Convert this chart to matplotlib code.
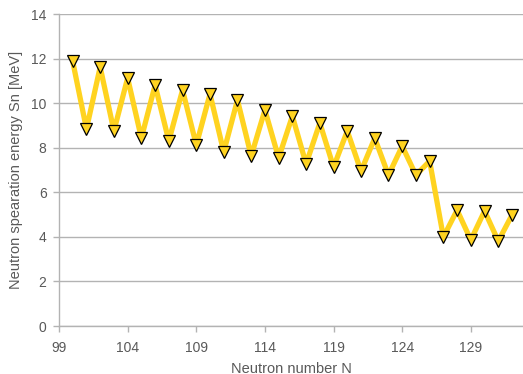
import matplotlib
matplotlib.use("Agg")
import matplotlib.pyplot as plt

# datos
n_neutrones = list(range(100, 133))
sn_mev = [11.87, 8.84, 11.62, 8.75, 11.13, 8.43, 10.81, 8.30, 10.59, 8.12,
          10.41, 7.81, 10.14, 7.63, 9.69, 7.54, 9.42, 7.27, 9.11, 7.13,
          8.75, 6.95, 8.43, 6.77, 8.07, 6.77, 7.40, 3.99, 5.20, 3.86,
          5.16, 3.81, 4.98]
x_ticks = [99, 104, 109, 114, 119, 124, 129]
y_ticks = [0, 2, 4, 6, 8, 10, 12, 14]

plt.rcParams["font.family"] = ["Liberation Sans", "DejaVu Sans"]
gris = "#b3b3b3"
texto = "#595959"

fig = plt.figure(figsize=(5.23, 3.74), dpi=100)
ax = fig.add_axes([59 / 523, 1 - 326 / 374, 1 - 59 / 523, (326 - 14) / 374])

ax.plot(n_neutrones, sn_mev, "-", color="#ffd320", lw=3.8, zorder=3)
ax.plot(n_neutrones, sn_mev, "v", ms=9, mfc="#ffd320", mec="black", mew=0.9,
        ls="none", zorder=4)

ax.set_xlim(99, 132.8)
ax.set_ylim(0, 14)
ax.set_xticks(x_ticks)
ax.set_yticks(y_ticks)
ax.grid(True, axis="y", color=gris, lw=1)
ax.set_axisbelow(True)
for lado in ("top", "right"):
    ax.spines[lado].set_visible(False)
for lado in ("left", "bottom"):
    ax.spines[lado].set_color(gris)
    ax.spines[lado].set_linewidth(1)
ax.tick_params(colors=gris, labelcolor=texto, labelsize=10, length=4, width=1)
ax.tick_params(axis="x", pad=7)
ax.tick_params(axis="y", pad=5)
ax.set_xlabel("Neutron number N", color=texto, fontsize=10.5, labelpad=4.5)
ax.set_ylabel("Neutron spearation energy Sn [MeV]", color=texto, fontsize=10.5,
              labelpad=6)

fig.savefig("out.png", dpi=100)
